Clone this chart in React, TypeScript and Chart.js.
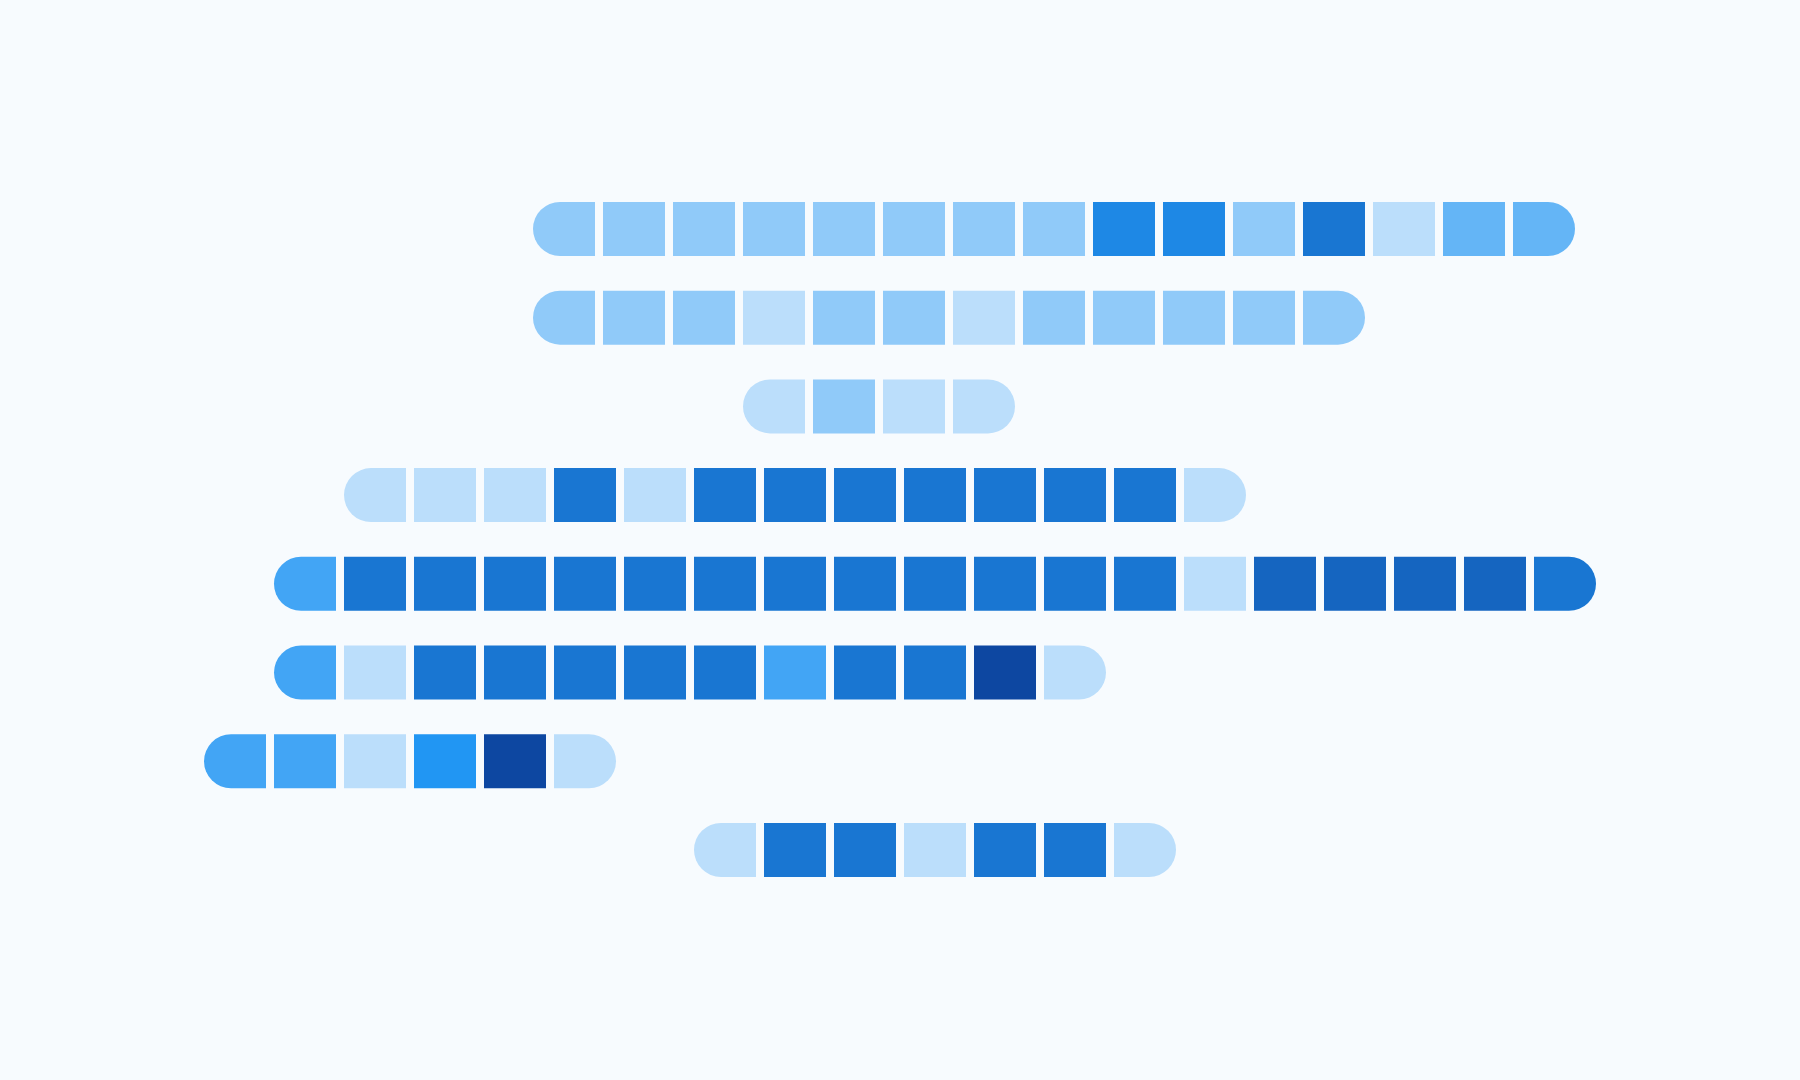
import React, { useEffect, useRef } from "react";
import { Chart, registerables } from "chart.js";

Chart.register(...registerables);

// Row categories (top to bottom)
const rowLabels = ["R1", "R2", "R3", "R4", "R5", "R6", "R7", "R8"];
// Start position (in cell units) of each row's strip
const rowStarts = [4.7, 4.7, 7.7, 2, 1, 1, 0, 7];
// Intensity level of each cell (1 = lightest, 9 = darkest)
const row1Levels = [2, 2, 2, 2, 2, 2, 2, 2, 6, 6, 2, 7, 1, 3, 3];
const row2Levels = [2, 2, 2, 1, 2, 2, 1, 2, 2, 2, 2, 2];
const row3Levels = [1, 2, 1, 1];
const row4Levels = [1, 1, 1, 7, 1, 7, 7, 7, 7, 7, 7, 7, 1];
const row5Levels = [4, 7, 7, 7, 7, 7, 7, 7, 7, 7, 7, 7, 7, 1, 8, 8, 8, 8, 7];
const row6Levels = [4, 1, 7, 7, 7, 7, 7, 4, 7, 7, 9, 1];
const row7Levels = [4, 4, 1, 5, 9, 1];
const row8Levels = [1, 7, 7, 1, 7, 7, 1];
const rowLevels = [row1Levels, row2Levels, row3Levels, row4Levels, row5Levels, row6Levels, row7Levels, row8Levels];

const palette: Record<number, string> = {
  1: "#BBDEFB",
  2: "#90CAF9",
  3: "#64B5F6",
  4: "#42A5F5",
  5: "#2196F3",
  6: "#1E88E5",
  7: "#1976D2",
  8: "#1565C0",
  9: "#0D47A1",
};

const BG = "#F7FBFE";
const GAP = 8 / 70; // visual gap between cells, in cell units
const RADIUS = 40; // clamped by Chart.js to half the bar height

export default function App() {
  const canvasRef = useRef<HTMLCanvasElement | null>(null);

  useEffect(() => {
    const cells: any[] = [];
    rowLevels.forEach((levels, r) => {
      levels.forEach((lv, i) => {
        const s = rowStarts[r] + i;
        cells.push({
          x: [s, s + 1 - GAP],
          y: rowLabels[r],
          level: lv,
          first: i === 0,
          last: i === levels.length - 1,
        });
      });
    });

    const chart = new Chart(canvasRef.current as HTMLCanvasElement, {
      type: "bar",
      data: {
        labels: rowLabels,
        datasets: [
          {
            data: cells,
            backgroundColor: (ctx: any) => palette[ctx.raw?.level] || palette[1],
            borderWidth: 0,
            borderSkipped: false,
            inflateAmount: 0,
            borderRadius: (ctx: any) => {
              const c = ctx.raw || {};
              return {
                topLeft: c.first ? RADIUS : 0,
                bottomLeft: c.first ? RADIUS : 0,
                topRight: c.last ? RADIUS : 0,
                bottomRight: c.last ? RADIUS : 0,
              };
            },
            barThickness: 54,
          } as any,
        ],
      },
      options: {
        indexAxis: "y",
        animation: false,
        responsive: true,
        maintainAspectRatio: false,
        events: [],
        layout: { padding: { left: 204, right: 196, top: 184.6, bottom: 185.7 } },
        plugins: {
          legend: { display: false },
          tooltip: { enabled: false },
          title: { display: false },
        },
        scales: {
          x: { type: "linear", min: 0, max: 20, display: false },
          y: { type: "category", display: false, offset: true },
        },
      },
    });
    return () => chart.destroy();
  }, []);

  return (
    <div
      style={{
        position: "absolute",
        left: 0,
        top: 0,
        width: 1800,
        height: 1080,
        background: BG,
      }}
    >
      <canvas ref={canvasRef} />
    </div>
  );
}
